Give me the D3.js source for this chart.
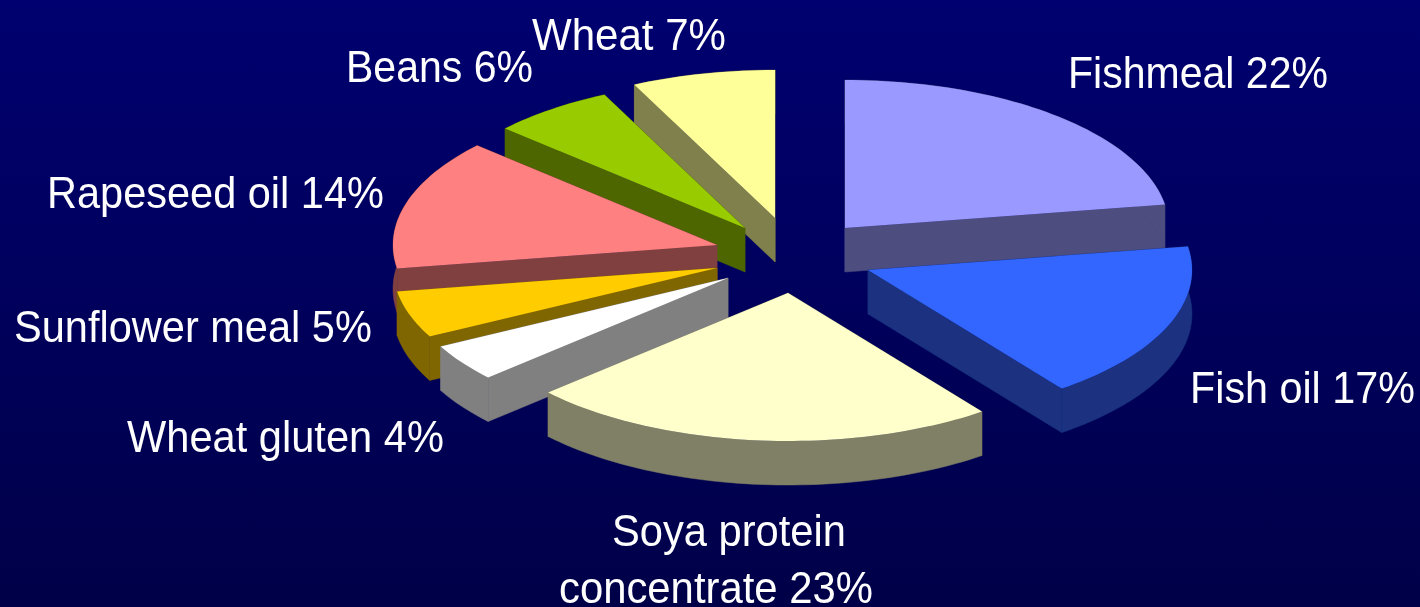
<!DOCTYPE html>
<html>
<head>
<meta charset="utf-8">
<script src="https://cdn.jsdelivr.net/npm/d3@7"></script>
<style>
  html, body { margin: 0; padding: 0; background: #000060; overflow: hidden; }
  text { font-family: "Liberation Sans", Arial, sans-serif; fill: #fff; }
</style>
</head>
<body>
<svg id="chart"></svg>
<script>
const categories = ['Fishmeal', 'Fish oil', 'Soya protein concentrate', 'Wheat gluten',
    'Sunflower meal', 'Rapeseed oil', 'Beans', 'Wheat'];
const values = [22, 17, 23, 4, 5, 14, 6, 7];
const colors = ['#9999ff', '#3366ff', '#ffffcc', '#ffffff', '#ffcc00', '#ff8080', '#99cc00', '#ffff99'];

const width = 1420;
const height = 607;
const rx = 324;
const ry = 148;
const depth = 44;
const centre = [790, 250];

// how far each slice was dragged out of the pie
const explode = [[55, -22], [78, 20], [-2, 43], [-62, 28], [-73, 18], [-73, -5], [-45, -22], [-15, -32]];
// back to front, so nearer slices cover the walls behind
const drawOrder = [7, 6, 0, 5, 4, 3, 2, 1];
// left x, baseline y, right x
const labelPos = [
    [[1068, 88, 1328]],
    [[1190, 403, 1415]],
    [[612, 546, 846], [559, 603, 873]],
    [[127, 452, 444]],
    [[14, 342, 372]],
    [[47, 208, 384]],
    [[346, 82, 533]],
    [[532, 50, 726]]
];

const svg = d3.select('#chart').attr('width', width).attr('height', height);

const defs = svg.append('defs');
const grad = defs.append('linearGradient').attr('id', 'bg').attr('x1', 0).attr('y1', 0).attr('x2', 0).attr('y2', 1);
grad.append('stop').attr('offset', '0%').attr('stop-color', '#000070');
grad.append('stop').attr('offset', '100%').attr('stop-color', '#000048');
defs.append('filter').attr('id', 'soft')
    .append('feGaussianBlur').attr('stdDeviation', 0.5);

svg.append('rect').attr('width', width).attr('height', height).attr('fill', 'url(#bg)');

const pie = d3.pie().sort(null).value(d => d)(values);
const line = d3.line();

// squash the circle to an ellipse, angle 0 is straight up
const project = (angle, lift) => [rx * Math.sin(angle), -ry * Math.cos(angle) + lift];

function rimPoints(slice, lift) {
    const n = Math.max(8, Math.ceil((slice.endAngle - slice.startAngle) * 40));
    return d3.range(n + 1).map(i => project(slice.startAngle + (slice.endAngle - slice.startAngle) * i / n, lift));
}

function halfShade(color) {
    const c = d3.rgb(color);
    return d3.rgb(c.r * 0.5, c.g * 0.5, c.b * 0.5).formatHex();
}

const g = svg.append('g').attr('filter', 'url(#soft)');

for (let i of drawOrder) {
    const slice = pie[i];
    const top = rimPoints(slice, 0);
    const bottom = rimPoints(slice, depth);
    const sg = g.append('g')
        .attr('transform', `translate(${centre[0] + explode[i][0]},${centre[1] + explode[i][1]})`);
    const dark = halfShade(colors[i]);

    // side walls: both cuts and the outer rim
    [
        [[0, 0], [0, depth], bottom[0], top[0]],
        [[0, 0], [0, depth], bottom[bottom.length - 1], top[top.length - 1]],
        top.concat(bottom.slice().reverse())
    ].forEach(wall => {
        sg.append('path').attr('d', line(wall) + 'Z').attr('fill', dark).attr('stroke', dark).attr('stroke-width', 0.5);
    });

    sg.append('path').attr('d', line([[0, 0]].concat(top)) + 'Z').attr('fill', colors[i]);
}

const labelLines = categories.map((c, i) => {
    const pct = values[i] + '%';
    return i === 2 ? ['Soya protein', 'concentrate ' + pct] : [c + ' ' + pct];
});

const labels = svg.append('g').attr('filter', 'url(#soft)');

labelLines.forEach((lines, i) => {
    lines.forEach((t, j) => {
        const [x, y, right] = labelPos[i][j];
        const label = labels.append('text')
            .attr('font-size', 44)
            .text(t);
        // the source text is squeezed sideways, fit it to its width
        const sx = (right - x) / label.node().getComputedTextLength();
        label.attr('transform', `translate(${x},${y}) scale(${sx},1)`);
    });
});
</script>
</body>
</html>
